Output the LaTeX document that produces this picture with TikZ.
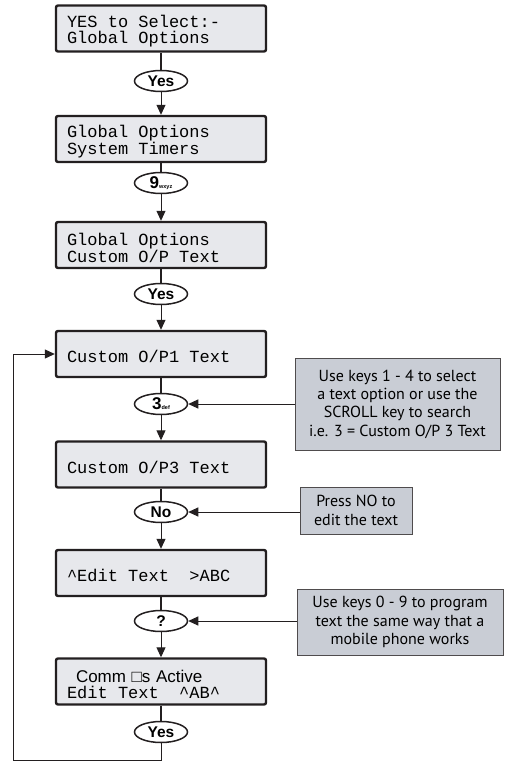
\documentclass[tikz,border=0pt]{standalone}
\usepackage{fontspec}
\usetikzlibrary{arrows.meta,positioning,shapes.geometric,calc}
\setmainfont{Liberation Sans}
\newfontfamily\lcdfont{Liberation Mono}
\newfontfamily\notefont{PT Sans}
\definecolor{lcdGrey}{RGB}{231,232,236}
\definecolor{noteGrey}{RGB}{201,205,213}
\definecolor{lineDark}{RGB}{35,31,32}
\newcommand{\keycap}[2]{{\fontsize{17}{17}\selectfont\bfseries #1}{\fontsize{5.5}{6}\selectfont\bfseries #2}}
\newcommand{\lsp}{\hspace*{0.6em}}

\begin{document}
\begin{tikzpicture}[x=1pt, y=-1pt,
    lcd/.style={rectangle, rounded corners=2pt, draw=lineDark, fill=lcdGrey,
                line width=2.4pt, minimum width=210pt, minimum height=46pt,
                text width=188pt, inner xsep=11pt, align=left,
                execute at begin node={\rule{0pt}{18pt}},
                font=\lcdfont\fontsize{17}{15.5}\selectfont},
    key/.style={ellipse, draw=lineDark, fill=white, line width=1.5pt,
                minimum width=53pt, minimum height=21pt, inner sep=0pt,
                font=\fontsize{15.5}{15.5}\selectfont\bfseries},
    note/.style={rectangle, draw=lineDark!80, fill=noteGrey, line width=0.8pt,
                 align=center, inner sep=3pt, font=\notefont\fontsize{16}{18.3}\selectfont},
    stem/.style={lineDark, line width=2.2pt},
    flow/.style={lineDark, line width=1pt, -{Triangle[width=9pt,length=10pt]}}
  ]
  \useasboundingbox (0,0) rectangle (507,763);

  \node[lcd] (b1) at (161,28.5) {YES\lsp to\lsp Select:-\\Global\lsp Options};
  \node[key] (e1) at (161,81)   {Yes};
  \node[lcd] (b2) at (161,139)  {Global\lsp Options\\System\lsp Timers};
  \node[key] (e2) at (161,183)  {\keycap{9}{wxyz}};
  \node[lcd] (b3) at (161,245)  {Global\lsp Options\\Custom\lsp O/P\lsp Text};
  \node[key] (e3) at (161,294)  {Yes};
  \node[lcd] (b4) at (161,354)  {Custom\lsp O/P1\lsp Text};
  \node[key] (e4) at (161,404)  {\keycap{3}{def}};
  \node[lcd] (b5) at (161,464.5){Custom\lsp O/P3\lsp Text};
  \node[key] (e5) at (161,512)  {No};
  \node[lcd] (b6) at (161,573)  {\textasciicircum Edit\lsp Text\lsp\lsp >ABC};
  \node[key] (e6) at (161,621)  {?};
  \node[lcd] (b7) at (161,681.5){\hspace*{9pt}{\fontspec{Liberation Sans}\fontsize{17}{15.5}\selectfont Comm □s Active}\\[1pt]Edit\lsp Text\lsp\lsp\textasciicircum AB\textasciicircum};
  \node[key] (e7) at (161,732)  {Yes};

  \node[note, minimum width=205pt, minimum height=92pt] (n1) at (397.5,404) {Use keys 1 - 4 to select\\a text option or use the\\SCROLL key to search\\i.e. 3 = Custom O/P 3 Text};
  \node[note, minimum width=112pt, minimum height=47pt] (n2) at (356,510.5) {Press NO to\\edit the text};
  \node[note, minimum width=206pt, minimum height=66pt] (n3) at (400,622) {Use keys 0 - 9 to program\\text the same way that a\\mobile phone works};

  \foreach \b/\e/\n in {b1/e1/b2, b2/e2/b3, b3/e3/b4, b4/e4/b5, b5/e5/b6, b6/e6/b7} {
    \draw[stem] (\b.south) -- (\e.north);
    \draw[flow] (\e.south) -- (\n.north);
  }
  \draw[stem] (b7.south) -- (e7.north);

  \draw[flow] (n1.west |- e4.east) -- (e4.east);
  \draw[flow] (n2.west |- e5.east) -- (e5.east);
  \draw[flow] (n3.west |- e6.east) -- (e6.east);

  % loop back to the first custom text
  \coordinate (loopbot) at (13,760);
  \draw[flow] (e7.south) |- (loopbot) |- (b4.west);
\end{tikzpicture}
\end{document}
